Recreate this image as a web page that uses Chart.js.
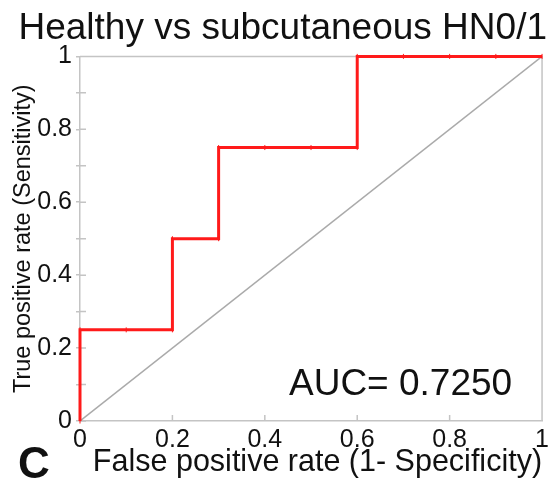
<!DOCTYPE html>
<html>
<head>
<meta charset="utf-8">
<script src="https://cdn.jsdelivr.net/npm/chart.js@4"></script>
<style>
  html, body { margin: 0; padding: 0; background: #fff; }
  #wrap { width: 553px; height: 484px; }
</style>
</head>
<body>
<div id="wrap"><canvas id="roc"></canvas></div>
<script>
// ROC curve
const fpr = [0, 0, 0.1, 0.2, 0.2, 0.3, 0.3, 0.4, 0.5, 0.6, 0.6, 0.7, 0.8, 0.9, 1];
const tpr = [0, 0.25, 0.25, 0.25, 0.5, 0.5, 0.75, 0.75, 0.75, 0.75, 1, 1, 1, 1, 1];
const chanceX = [0, 1];
const chanceY = [0, 1];
const xTicks = [0, 0.2, 0.4, 0.6, 0.8, 1];
const yTicks = [0, 0.2, 0.4, 0.6, 0.8, 1];
const aucText = 'AUC= 0.7250';
const panelLetter = 'C';

const FONT = '"Liberation Sans", Arial, Helvetica, sans-serif';
const AXIS_GREY = '#c4c4c4';

const fmt = v => String(Math.round(v * 10) / 10);

// frame, inward tick marks and the two loose labels
const extras = {
    id: 'extras',
    beforeDatasetsDraw(chart) {
        const { ctx, chartArea: a, scales: { x, y } } = chart;
        ctx.save();
        ctx.strokeStyle = AXIS_GREY;
        ctx.lineWidth = 1.5;
        ctx.beginPath();
        ctx.moveTo(a.left, a.top);
        ctx.lineTo(a.right, a.top);
        ctx.lineTo(a.right, a.bottom);
        y.ticks.forEach(t => {
            const py = y.getPixelForValue(t.value);
            ctx.moveTo(a.left, py);
            ctx.lineTo(a.left + 6, py);
        });
        xTicks.forEach(v => {
            if (v === 0 || v === 1) return;
            const px = x.getPixelForValue(v);
            ctx.moveTo(px, a.bottom);
            ctx.lineTo(px, a.bottom - 6);
        });
        ctx.stroke();
        ctx.restore();
    },
    afterDraw(chart) {
        const { ctx } = chart;
        ctx.save();
        ctx.fillStyle = '#111';
        ctx.textBaseline = 'alphabetic';
        ctx.textAlign = 'left';
        ctx.font = '37px ' + FONT;
        ctx.fillText(aucText, 289, 395);
        ctx.font = 'bold 44px ' + FONT;
        ctx.fillText(panelLetter, 18, 478);
        ctx.restore();
    }
};

new Chart(document.getElementById('roc'), {
    type: 'scatter',
    data: {
        datasets: [{
            label: 'ROC',
            data: fpr.map((v, i) => ({ x: v, y: tpr[i] })),
            showLine: true,
            borderColor: '#ff1a1a',
            borderWidth: 3,
            pointStyle: 'line',
            rotation: 90,
            pointRadius: 2.5,
            pointBorderWidth: 1,
            pointBorderColor: '#ff1a1a',
            clip: 6
        }, {
            label: 'Chance',
            data: chanceX.map((v, i) => ({ x: v, y: chanceY[i] })),
            showLine: true,
            borderColor: '#aaaaaa',
            borderWidth: 1.5,
            pointRadius: 0
        }]
    },
    options: {
        responsive: true,
        maintainAspectRatio: false,
        animation: false,
        layout: { padding: { left: 0, right: 6, top: 0, bottom: 0 } },
        plugins: {
            legend: { display: false },
            tooltip: { enabled: false },
            title: {
                display: true,
                text: 'Healthy vs subcutaneous HN0/1',
                align: 'end',
                color: '#111',
                font: { family: FONT, size: 37, weight: 'normal', lineHeight: 1.2 },
                padding: { top: 7, bottom: 5 }
            }
        },
        scales: {
            x: {
                type: 'linear',
                min: 0,
                max: 1,
                afterFit: s => { s.height = 63; },
                afterBuildTicks: s => { s.ticks = xTicks.map(v => ({ value: v })); },
                ticks: {
                    color: '#111',
                    padding: 4,
                    maxRotation: 0,
                    font: { family: FONT, size: 25 },
                    callback: v => fmt(v)
                },
                grid: { drawOnChartArea: false, drawTicks: false },
                border: { color: AXIS_GREY, width: 1.5 },
                title: {
                    display: true,
                    text: 'False positive rate (1- Specificity)',
                    align: 'end',
                    color: '#111',
                    font: { family: FONT, size: 30.5, lineHeight: 1.2 },
                    padding: { top: 0, bottom: 3 }
                }
            },
            y: {
                type: 'linear',
                min: 0,
                max: 1,
                afterFit: s => { s.width = 80; },
                ticks: {
                    stepSize: 0.1,
                    color: '#111',
                    padding: 4,
                    font: { family: FONT, size: 25 },
                    callback: v => yTicks.some(t => Math.abs(t - v) < 1e-6) ? fmt(v) : ''
                },
                grid: { drawOnChartArea: false, drawTicks: true, tickLength: 4, color: AXIS_GREY, lineWidth: 1.5 },
                border: { color: AXIS_GREY, width: 1.5 },
                title: {
                    display: true,
                    text: 'True positive rate (Sensitivity)',
                    color: '#111',
                    font: { family: FONT, size: 23.5, lineHeight: 1.2 },
                    padding: { top: 9, bottom: 0 }
                }
            }
        }
    },
    plugins: [extras]
});
</script>
</body>
</html>
